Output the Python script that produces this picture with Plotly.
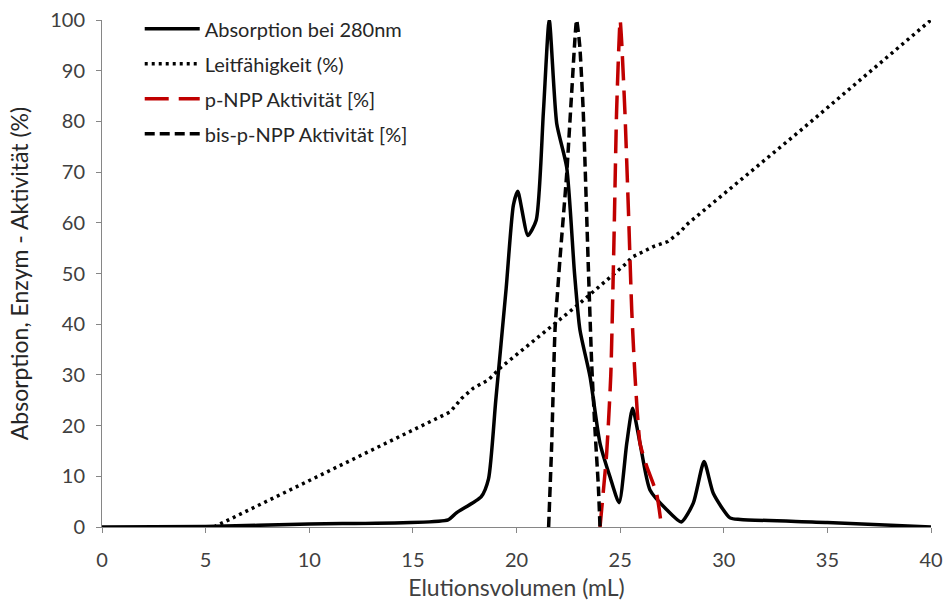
import plotly.graph_objects as go

# Absorption bei 280nm
abs_x = [0, 5, 10, 16.7, 17.1, 18.3, 18.65, 19.0, 19.5, 19.85, 20.06, 20.55, 20.95, 21.3, 21.58,
         21.94, 22.42, 22.8, 23.06, 23.55, 24.03, 24.51, 24.95, 25.32, 25.6, 25.96, 26.44, 27.25,
         27.95, 28.53, 29.05, 29.5, 30.3, 30.8, 35, 40]
abs_y = [0, 0.1, 0.6, 1.4, 2.8, 6.0, 9.5, 25, 47, 63.5, 66.2, 57.5, 60.5, 82, 100,
         79.6, 71, 50, 38.9, 29.6, 16.5, 9.9, 4.8, 16.5, 23.4, 16.5, 7.3, 3.4,
         1.0, 4.7, 12.9, 6.6, 1.8, 1.5, 0.9, 0]

# Leitfähigkeit (%)
cond_x = [5.4, 16.8, 17.36, 17.92, 18.64, 19.28, 22.9, 25.3, 25.56, 26.6, 27.3, 27.9, 28.2, 33.7, 40]
cond_y = [0, 22.7, 25.4, 27.4, 29.0, 31.6, 43.6, 52.0, 53.2, 55.3, 56.3, 58.2, 59.6, 78.2, 100]

# p-NPP Aktivität [%]
pnpp_x = [24.03, 24.35, 24.55, 24.7, 24.83, 25.0, 25.07, 25.23, 25.4, 25.56, 25.72, 25.96, 26.28, 26.76, 27.0]
pnpp_y = [0, 14.5, 30, 56, 82, 100, 96, 82, 62.5, 42.8, 29.6, 16.5, 12, 6.6, 0]

# bis-p-NPP Aktivität [%]
bis_x = [21.55, 21.7, 21.86, 22.1, 22.42, 22.66, 22.9, 23.05, 23.22, 23.46, 23.63, 23.79, 23.95, 24.03]
bis_y = [0, 16.5, 39, 53, 69.5, 85.5, 100, 95, 82, 52, 32, 19, 8, 0]

x_ticks = [0, 5, 10, 15, 20, 25, 30, 35, 40]
y_ticks = [0, 10, 20, 30, 40, 50, 60, 70, 80, 90, 100]

FONT = "Lato"
TXT = "#404040"

fig = go.Figure()
fig.add_trace(go.Scatter(x=abs_x, y=abs_y, mode="lines", name="Absorption bei 280nm",
                         line=dict(color="black", width=3.5, shape="spline", smoothing=0.6),
                         cliponaxis=False, legendgroup="a"))
fig.add_trace(go.Scatter(x=cond_x, y=cond_y, mode="lines", name="Leitfähigkeit (%)",
                         line=dict(color="black", width=3.5, dash="3px,4px"),
                         cliponaxis=False, legendgroup="b"))
fig.add_trace(go.Scatter(x=pnpp_x, y=pnpp_y, mode="lines", name="p-NPP Aktivität [%]",
                         line=dict(color="#C00000", width=3.5, dash="24px,10px", shape="spline", smoothing=0.5),
                         cliponaxis=False, legendgroup="c"))
fig.add_trace(go.Scatter(x=bis_x, y=bis_y, mode="lines", name="bis-p-NPP Aktivität [%]",
                         line=dict(color="black", width=3.5, dash="10px,5px", shape="spline", smoothing=0.5),
                         cliponaxis=False, legendgroup="d"))

fig.update_layout(
    width=943, height=601,
    margin=dict(l=102, r=12, t=20, b=74, autoexpand=False),
    paper_bgcolor="white", plot_bgcolor="white",
    font=dict(family=FONT, size=18, color=TXT),
    showlegend=True,
    legend=dict(x=0.0455, y=1.021, xanchor="left", yanchor="top",
                bgcolor="rgba(255,255,255,0)", font=dict(family=FONT, size=20, color="#262626"),
                itemwidth=55, tracegroupgap=6),
    xaxis=dict(range=[0, 40], tickvals=x_ticks, showgrid=False, zeroline=False, automargin=False,
               showline=True, linecolor="#868686", linewidth=1,
               ticks="outside", ticklen=5, tickcolor="#868686", ticklabelstandoff=10,
               ticklabeloverflow="allow",
               tickfont=dict(family=FONT, size=20, color=TXT),
               title=dict(text="Elutionsvolumen (mL)", font=dict(family=FONT, size=23, color=TXT), standoff=11)),
    yaxis=dict(range=[0, 100], tickvals=y_ticks, showgrid=False, zeroline=False, automargin=False,
               showline=True, linecolor="#868686", linewidth=1,
               ticks="outside", ticklen=5, tickcolor="#868686", ticklabelstandoff=7,
               ticklabeloverflow="allow",
               tickfont=dict(family=FONT, size=20, color=TXT),
               title=dict(text="Absorption, Enzym - Aktivität (%)", font=dict(family=FONT, size=23, color="#262626"), standoff=15)),
)

fig.write_html("out.html", config={"displayModeBar": False},
               post_script="document.body.style.margin='0';document.body.style.overflow='hidden';")
